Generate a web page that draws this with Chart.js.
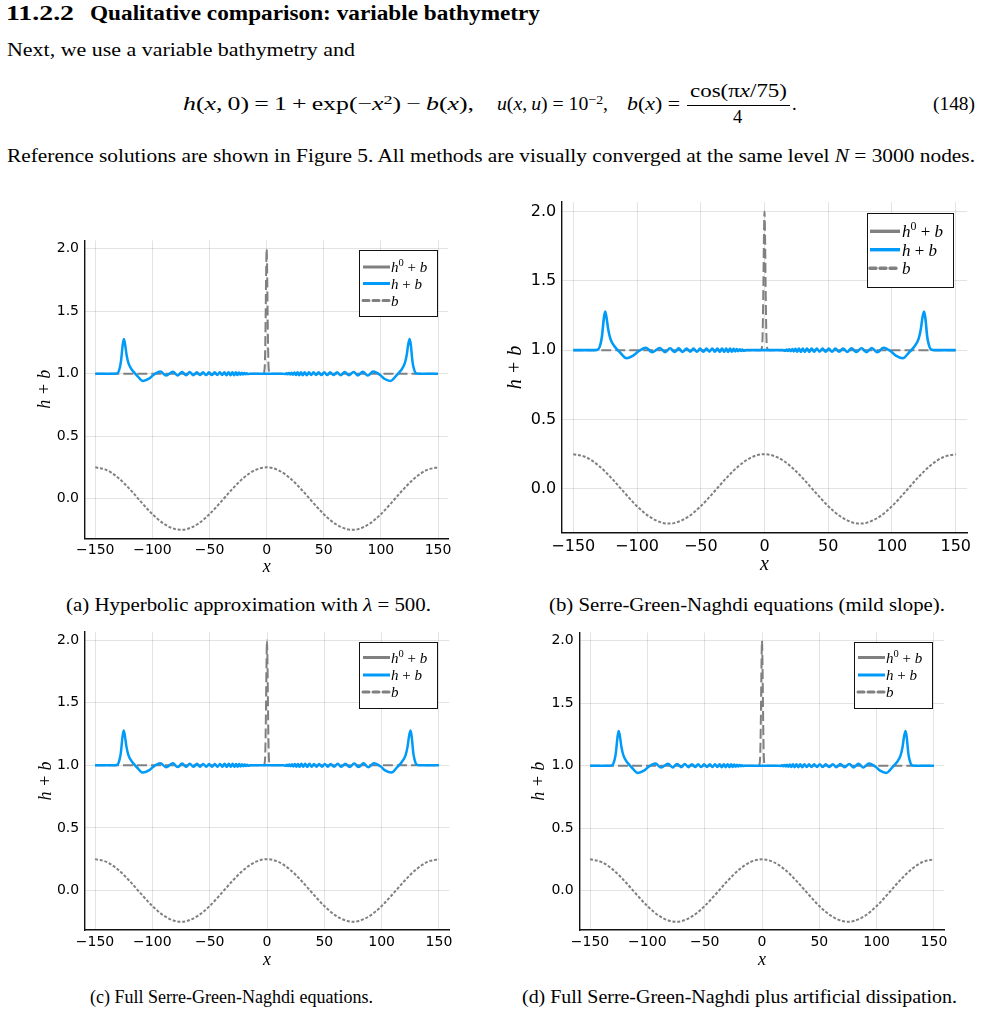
<!DOCTYPE html>
<html>
<head>
<meta charset="utf-8">
<script src="https://cdn.jsdelivr.net/npm/chart.js@4.4.1/dist/chart.umd.min.js"></script>
<style>
body { margin: 0; background: #fff; width: 981px; height: 1015px; position: relative; overflow: hidden; font-family: "Liberation Serif", serif; color: #000; }
.t { position: absolute; white-space: nowrap; transform-origin: 0 0; font-size: 18.5px; line-height: 1; }
.s { font-size: 0.7em; vertical-align: 0.45em; line-height: 0; }
canvas { position: absolute; }
i { font-style: italic; }
#bar { position: absolute; left: 687px; top: 104.5px; width: 103px; height: 1px; background: #000; }
</style>
</head>
<body>

<div class="t" style="font-weight:bold;font-size:20px" data-x="6" data-b="20" data-w="68">11.2.2</div>
<div class="t" style="font-weight:bold;font-size:20px" data-x="90" data-b="20" data-w="450">Qualitative comparison: variable bathymetry</div>
<div class="t" data-x="7" data-b="56" data-w="348">Next, we use a variable bathymetry and</div>

<div class="t" data-x="183" data-b="110" data-w="291"><i>h</i>(<i>x</i>,&thinsp;0)&thinsp;=&thinsp;1&thinsp;+&thinsp;exp(−<i>x</i><span class="s">2</span>)&thinsp;−&thinsp;<i>b</i>(<i>x</i>),</div>
<div class="t" data-x="497" data-b="110" data-w="111"><i>u</i>(<i>x</i>,&thinsp;<i>u</i>) = 10<span class="s">−2</span>,</div>
<div class="t" data-x="627" data-b="110" data-w="53"><i>b</i>(<i>x</i>) =</div>
<div class="t" data-x="690" data-b="97" data-w="97">cos(π<i>x</i>/75)</div>
<div id="bar"></div>
<div class="t" data-x="733" data-b="123">4</div>
<div class="t" data-x="792" data-b="110">.</div>
<div class="t" data-x="933" data-b="110" data-w="42">(148)</div>

<div class="t" data-x="7" data-b="162" data-w="968">Reference solutions are shown in Figure 5. All methods are visually converged at the same level <i>N</i> = 3000 nodes.</div>

<canvas id="chartA"></canvas>
<canvas id="chartB"></canvas>
<canvas id="chartC"></canvas>
<canvas id="chartD"></canvas>

<div class="t" style="font-size:18px" data-x="66" data-b="611" data-w="365">(a) Hyperbolic approximation with <i>λ</i> = 500.</div>
<div class="t" style="font-size:18px" data-x="549" data-b="611" data-w="396">(b) Serre-Green-Naghdi equations (mild slope).</div>
<div class="t" style="font-size:18px" data-x="90" data-b="1003" data-w="283">(c) Full Serre-Green-Naghdi equations.</div>
<div class="t" style="font-size:18px" data-x="522" data-b="1003" data-w="435">(d) Full Serre-Green-Naghdi plus artificial dissipation.</div>

<script>
// tick values and labels
var xTicks = [-150, -100, -50, 0, 50, 100, 150];
var xTickLabels = ['\u2212150', '\u2212100', '\u221250', '0', '50', '100', '150'];
var yTicks = [0, 0.5, 1, 1.5, 2];
var yTickLabels = ['0.0', '0.5', '1.0', '1.5', '2.0'];

// h + b (solution, blue)
var hbX = [-150, -134, -130.5, -128.5, -127.5, -126, -125, -124, -122.6, -120.8, -117.4, -113.5, -108.3, -103, -99.1, -96,
  -93, -88, -82, -78, -74, -70.5, -67.4, -64.2, -61.1, -58.4, -55.7, -53, -50.5, -48, -45.5, -43.2, -41, -39,
  -37, -35.1, -33.3, -31.6, -30, -28.5, -27, -25.6, -24.3, -23, -21.8, -20.6, -19.5, -18.4, -17.4, -16.5, -14,
  0,
  14, 16.5, 17.4, 18.4, 19.5, 20.6, 21.8, 23, 24.3, 25.6, 27, 28.5, 30, 31.6, 33.3, 35.1, 37, 39, 41, 43.2,
  45.5, 48, 50.4, 53, 55.5, 58.5, 61.7, 64.8, 68.3, 72, 76.1, 80, 84.1, 88.5, 93.2,
  96.2, 99.3, 103, 108.5, 113.5, 117.4, 120.8, 122.6, 124, 125.2, 126.2, 127.6, 128.6, 130.6, 134, 150];
var hbY = [1.0, 1.0, 1.005, 1.05, 1.1, 1.23, 1.278, 1.24, 1.15, 1.08, 1.025, 0.985, 0.942, 0.96, 0.99, 1.008,
  1.017, 0.985, 1.016, 0.986, 1.014, 0.987, 1.013, 0.988, 1.012, 0.989, 1.011, 0.989, 1.011, 0.989, 1.011, 0.989, 1.011, 0.989,
  1.012, 0.988, 1.012, 0.988, 1.012, 0.988, 1.011, 0.989, 1.01, 0.991, 1.008, 0.993, 1.006, 0.995, 1.004, 0.997, 1.0,
  1.0,
  1.0, 0.997, 1.004, 0.995, 1.006, 0.993, 1.008, 0.991, 1.01, 0.989, 1.011, 0.988, 1.012, 0.988, 1.012, 0.988, 1.012, 0.989, 1.011, 0.989,
  1.011, 0.989, 1.011, 0.989, 1.011, 0.989, 1.012, 0.988, 1.013, 0.987, 1.014, 0.986, 1.016, 0.985, 1.017,
  1.008, 0.99, 0.96, 0.942, 0.985, 1.025, 1.08, 1.15, 1.24, 1.278, 1.23, 1.1, 1.05, 1.005, 1.0, 1.0];

// h0 + b (initial condition, grey)
var h0X = [-150, -3, -2, -1.5, -1, -0.5, 0, 0.5, 1, 1.5, 2, 3, 150];
var h0Y = [1, 1, 1.02, 1.1, 1.37, 1.78, 2.0, 1.78, 1.37, 1.1, 1.02, 1, 1];

// b (bathymetry, dotted grey)
var bX = [-150, -140, -130, -120, -110, -100, -90, -80, -75, -70, -60, -50, -40, -30, -20, -10, 0,
  10, 20, 30, 40, 50, 60, 70, 75, 80, 90, 100, 110, 120, 130, 140, 150];
var bY = [0.25, 0.228, 0.167, 0.077, -0.026, -0.125, -0.202, -0.245, -0.25, -0.245, -0.202, -0.125, -0.026, 0.077, 0.167, 0.228, 0.25,
  0.228, 0.167, 0.077, -0.026, -0.125, -0.202, -0.245, -0.25, -0.245, -0.202, -0.125, -0.026, 0.077, 0.167, 0.228, 0.25];

var blue = '#009af9';
var gray = '#808080';

// legend entries: [text, style] pieces, i = italic, s = superscript, r = roman
var legendParts = [
  [['h', 'i'], ['0', 's'], [' + ', 'r'], ['b', 'i']],
  [['h', 'i'], [' + ', 'r'], ['b', 'i']],
  [['b', 'i']]
];
var legendColors = [gray, blue, gray];
var legendDash = [[], [], [6, 4]];

function pts(xs, ys) {
  return xs.map(function(x, i) { return {x: x, y: ys[i]}; });
}

// place and stretch the page text
document.querySelectorAll('.t').forEach(function(el) {
  var fs = parseFloat(getComputedStyle(el).fontSize);
  el.style.left = el.dataset.x + 'px';
  el.style.top = (el.dataset.b - 0.8375 * fs) + 'px';
  if (el.dataset.w) {
    var w = el.getBoundingClientRect().width;
    el.style.transform = 'scaleX(' + (el.dataset.w / w) + ')';
  }
});

var legendBox = {
  id: 'legendBox',
  afterDraw: function(chart, args, o) {
    var ctx = chart.ctx, a = chart.chartArea;
    var x0 = Math.round(a.right - o.right - o.w), y0 = Math.round(a.top + o.top);
    ctx.save();
    ctx.fillStyle = '#fff';
    ctx.fillRect(x0, y0, o.w, o.h);
    ctx.strokeStyle = '#111';
    ctx.lineWidth = 1;
    ctx.strokeRect(x0 + 0.5, y0 + 0.5, o.w, o.h);
    legendParts.forEach(function(parts, i) {
      var y = y0 + o.rows[i];
      ctx.beginPath();
      ctx.strokeStyle = legendColors[i];
      ctx.lineWidth = o.lw;
      ctx.setLineDash(legendDash[i]);
      ctx.lineCap = legendDash[i].length ? 'round' : 'butt';
      ctx.moveTo(x0 + o.lx0, y);
      ctx.lineTo(x0 + o.lx1, y);
      ctx.stroke();
      ctx.setLineDash([]);
      var tx = x0 + o.tx;
      ctx.fillStyle = '#000';
      ctx.textBaseline = 'alphabetic';
      parts.forEach(function(p) {
        var size = p[1] === 's' ? o.font * 0.7 : o.font;
        ctx.font = (p[1] === 'i' ? 'italic ' : '') + size + 'px "Liberation Serif"';
        var dy = p[1] === 's' ? -o.font * 0.42 : 0;
        ctx.fillText(p[0], tx, y + o.font * 0.36 + dy);
        tx += ctx.measureText(p[0]).width;
      });
    });
    ctx.restore();
  }
};

function makeChart(id, g) {
  var cv = document.getElementById(id);
  var left = Math.floor(g.L - 60), top = Math.floor(g.T - 10);
  var width = Math.ceil(g.R + 25) - left, height = Math.ceil(g.B + 45) - top;
  cv.style.left = left + 'px';
  cv.style.top = top + 'px';
  cv.width = width;
  cv.height = height;
  var yW = g.L - left, xH = top + height - g.B;
  var lh = g.title * 1.2;
  var titleFont = {family: 'Liberation Serif', style: 'italic', size: g.title};
  var tickFont = {family: 'DejaVu Sans', size: g.tick};

  new Chart(cv, {
    type: 'line',
    data: {
      datasets: [
        {label: 'h + b', data: pts(hbX, hbY), borderColor: blue, borderWidth: g.lw, order: 0},
        {label: 'h0 + b', data: pts(h0X, h0Y), borderColor: gray, borderWidth: 2, borderDash: [10, 4], order: 1},
        {label: 'b', data: pts(bX, bY), borderColor: gray, borderWidth: 2, borderDash: [3, 1.8], order: 2}
      ]
    },
    options: {
      responsive: false,
      animation: false,
      devicePixelRatio: 1,
      layout: {padding: {left: 0, top: g.T - top, right: left + width - g.R, bottom: 0}},
      elements: {
        point: {radius: 0},
        line: {cubicInterpolationMode: 'monotone', fill: false}
      },
      plugins: {
        legend: {display: false},
        tooltip: {enabled: false},
        legendBox: g.legend
      },
      scales: {
        x: {
          type: 'linear', min: -159, max: 159,
          afterBuildTicks: function(s) { s.ticks = xTicks.map(function(v) { return {value: v}; }); },
          afterFit: function(s) { s.height = xH; },
          ticks: {
            callback: function(v, i) { return xTickLabels[i]; },
            font: tickFont, color: '#000', padding: g.xPad, maxRotation: 0, autoSkip: false
          },
          grid: {color: 'rgba(0,0,0,0.11)', drawTicks: false},
          border: {color: '#111', width: 1.4},
          title: {display: true, text: 'x', font: titleFont, color: '#000',
                  padding: {top: 0, bottom: (top + height) - lh / 2 - g.xTitleY}}
        },
        y: {
          type: 'linear', min: -0.3175, max: 2.0675,
          afterBuildTicks: function(s) { s.ticks = yTicks.map(function(v) { return {value: v}; }); },
          afterFit: function(s) { s.width = yW; },
          ticks: {
            callback: function(v, i) { return yTickLabels[i]; },
            font: tickFont, color: '#000', padding: g.yPad, autoSkip: false
          },
          grid: {color: 'rgba(0,0,0,0.11)', drawTicks: false},
          border: {color: '#111', width: 1.4},
          title: {display: true, text: 'h + b', font: titleFont, color: '#000',
                  padding: {top: g.yTitleX - left - lh / 2, bottom: 0}}
        }
      }
    },
    plugins: [legendBox]
  });
}

makeChart('chartA', {L: 85, T: 236.5, R: 448.3, B: 538.2, tick: 14, title: 18, xPad: 3.5, yPad: 6, lw: 2.5,
  yTitleX: 45, xTitleY: 567,
  legend: {right: 11, top: 10, w: 78, h: 66, rows: [17, 33.5, 50.5], lx0: 4, lx1: 31, tx: 32, lw: 3, font: 15}});
makeChart('chartB', {L: 561.8, T: 197.8, R: 967.2, B: 532.9, tick: 16, title: 20, xPad: 4, yPad: 5.5, lw: 2.6,
  yTitleX: 515.5, xTitleY: 565,
  legend: {right: 14, top: 11, w: 86, h: 74, rows: [18.3, 36.7, 55.3], lx0: 3, lx1: 33, tx: 35, lw: 3.4, font: 17}});
makeChart('chartC', {L: 84.7, T: 628.8, R: 449.3, B: 930.1, tick: 14, title: 18, xPad: 3.5, yPad: 5.5, lw: 2.5,
  yTitleX: 45.8, xTitleY: 960,
  legend: {right: 12, top: 10, w: 78, h: 66, rows: [15.5, 33, 50], lx0: 4, lx1: 31, tx: 32, lw: 3, font: 15}});
makeChart('chartD', {L: 579.7, T: 628.8, R: 944.3, B: 930.1, tick: 14, title: 18, xPad: 3.5, yPad: 6, lw: 2.5,
  yTitleX: 539, xTitleY: 960,
  legend: {right: 12, top: 10, w: 78, h: 66, rows: [15.5, 33, 50], lx0: 4, lx1: 31, tx: 32, lw: 3, font: 15}});
</script>
</body>
</html>
